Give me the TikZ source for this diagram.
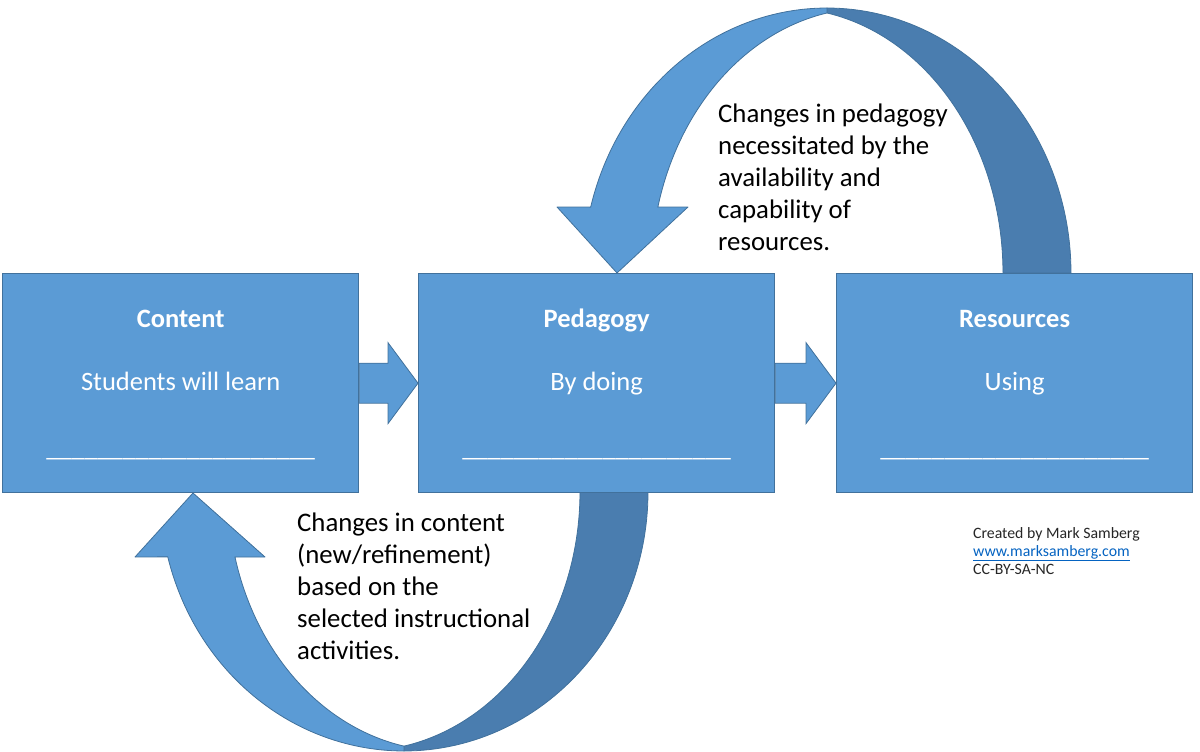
\documentclass[tikz,border=0pt]{standalone}
\usepackage{fontspec}
\setmainfont{Carlito}
\usetikzlibrary{calc,backgrounds}
\definecolor{boxblue}{HTML}{5B9BD5}
\definecolor{boxline}{HTML}{41719C}
\definecolor{backblue}{HTML}{4A7DAF}
\definecolor{linkblue}{HTML}{0563C1}
\definecolor{credgray}{HTML}{262626}
\newcommand{\blanks}{\_\_\_\_\_\_\_\_\_\_\_\_\_\_\_\_\_\_\_\_\_}
\begin{document}
\begin{tikzpicture}[x=1pt,y=-1pt,
  box/.style={draw=boxline, line width=1.3pt, fill=boxblue, minimum width=356pt,
    minimum height=219pt, inner sep=0pt, anchor=north west},
  boxtitle/.style={text=white, font=\fontsize{26.5}{32}\selectfont\bfseries, anchor=base, inner sep=0pt},
  boxtext/.style={text=white, font=\fontsize{26.5}{32}\selectfont, anchor=base, inner sep=0pt},
  blankline/.style={text=white, font=\fontsize{25.7}{32}\selectfont, anchor=base, inner sep=0pt},
  note/.style={text=black, font=\fontsize{26.8}{32}\selectfont, align=left, anchor=north west, inner sep=0pt},
  credit/.style={text=credgray, font=\fontsize{15.8}{18}\selectfont, align=left, anchor=north west, inner sep=0pt},
  front/.style={fill=boxblue, draw=boxline, line width=0.8pt, line join=round},
  back/.style={fill=backblue, draw=boxline, line width=0.8pt, line join=round},
  blockarrow/.style={fill=boxblue, draw=boxline, line width=0.8pt}
]
\useasboundingbox (0,0) rectangle (1200,752);

% boxes
\node[box] (content) at (2,273) {};
\node[box] (pedagogy) at (418,273) {};
\node[box] (resources) at (836,273) {};

\node[boxtitle] (contentT) at ($(content.north)+(0,54)$) {Content};
\node[boxtext] (contentS) at ($(content.north)+(0,117)$) {Students will learn};
\node[blankline] (contentB) at ($(content.north)+(0,183)$) {\blanks};

\node[boxtitle] (pedagogyT) at ($(pedagogy.north)+(0,54)$) {Pedagogy};
\node[boxtext] (pedagogyS) at ($(pedagogy.north)+(0,117)$) {By doing};
\node[blankline] (pedagogyB) at ($(pedagogy.north)+(0,183)$) {\blanks};

\node[boxtitle] (resourcesT) at ($(resources.north)+(0,54)$) {Resources};
\node[boxtext] (resourcesS) at ($(resources.north)+(0,117)$) {Using};
\node[blankline] (resourcesB) at ($(resources.north)+(0,183)$) {\blanks};

\begin{pgfonlayer}{background}
% top curved arrow (resources -> pedagogy)
\path[back] plot[domain=-90:0, samples=60, variable=\t] ({827+244*cos(\t)},{273+265*sin(\t)})
  -- (1003,273)
  -- plot[domain=0:-78.9, samples=60, variable=\t] ({785+218*cos(\t)},{273+265*sin(\t)})
  -- cycle;
\path[front] plot[domain=270:194.4, samples=60, variable=\t] ({827+244*cos(\t)},{273+265*sin(\t)})
  -- (557,207) -- (617,273) -- (688,207) -- (657.8,207)
  -- plot[domain=194.4:258.9, samples=60, variable=\t] ({869+218*cos(\t)},{273+265*sin(\t)})
  -- cycle;
% bottom curved arrow (pedagogy -> content)
\path[back] plot[domain=90:0, samples=60, variable=\t] ({404+244*cos(\t)},{492+259*sin(\t)})
  -- (580,492)
  -- plot[domain=0:78.9, samples=60, variable=\t] ({362+218*cos(\t)},{492+259*sin(\t)})
  -- cycle;
\path[front] plot[domain=90:165.5, samples=60, variable=\t] ({404+244*cos(\t)},{492+259*sin(\t)})
  -- (135,557) -- (193,493) -- (265,557) -- (235,557)
  -- plot[domain=165.5:101.1, samples=60, variable=\t] ({446+218*cos(\t)},{492+259*sin(\t)})
  -- cycle;
% straight block arrows
\path[blockarrow] ($(content.east)+(0,-20)$) -- ($(pedagogy.west)+(-30,-20)$)
  -- ($(pedagogy.west)+(-30,-40.5)$) -- (pedagogy.west) -- ($(pedagogy.west)+(-30,40.5)$)
  -- ($(pedagogy.west)+(-30,20)$) -- ($(content.east)+(0,20)$) -- cycle;
\path[blockarrow] ($(pedagogy.east)+(0,-20)$) -- ($(resources.west)+(-30,-20)$)
  -- ($(resources.west)+(-30,-40.5)$) -- (resources.west) -- ($(resources.west)+(-30,40.5)$)
  -- ($(resources.west)+(-30,20)$) -- ($(pedagogy.east)+(0,20)$) -- cycle;
\end{pgfonlayer}

% annotations
\node[note] (topnote) at (718,98) {\rule{0pt}{24pt}Changes in pedagogy\\necessitated by the\\availability and\\capability of\\resources.};
\node[note] (botnote) at (297,507) {\rule{0pt}{24pt}Changes in content\\(new/refinement)\\based on the\\selected instructional\\activities.};

% credits
\node[credit] (credits) at (973,524) {\rule{0pt}{14pt}Created by Mark Samberg\\{\color{linkblue}\underline{www.marksamberg.com}}\\CC-BY-SA-NC};
\end{tikzpicture}
\end{document}
